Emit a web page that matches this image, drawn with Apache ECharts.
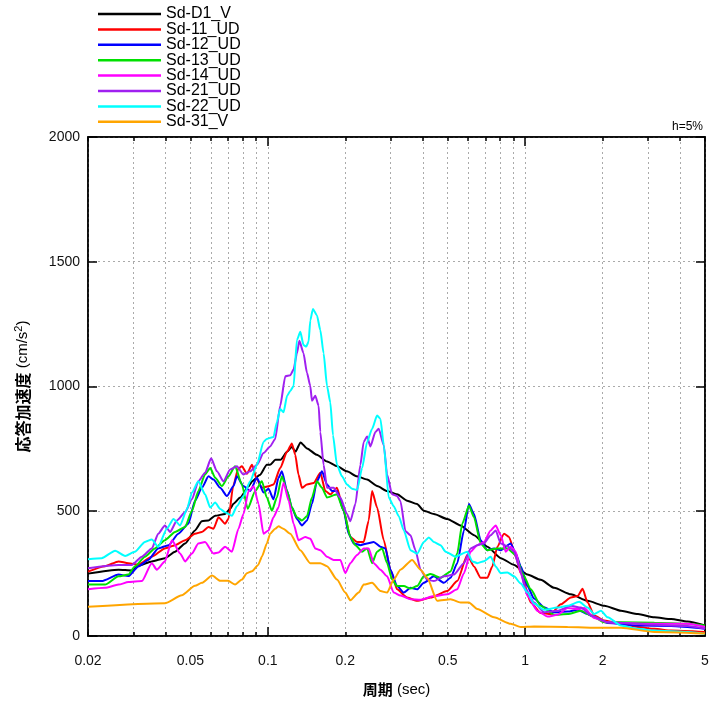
<!DOCTYPE html>
<html>
<head>
<meta charset="utf-8">
<script src="https://cdn.jsdelivr.net/npm/echarts@6/dist/echarts.min.js"></script>
<style>
html,body{margin:0;padding:0;background:#fff;}
#c{width:712px;height:702px;}
</style>
</head>
<body>
<div id="c"></div>
<script>
// ---- data: period (sec) and response acceleration (cm/s^2) ----
const seriesNames = ['Sd-D1_V','Sd-11_UD','Sd-12_UD','Sd-13_UD','Sd-14_UD','Sd-21_UD','Sd-22_UD','Sd-31_V'];
const seriesColors = ['#000000','#ff0000','#0000ff','#00e000','#ff00ff','#a020f0','#00ffff','#ffa500'];

const tD1 = [0.02,0.0263,0.0296,0.0314,0.0354,0.0398,0.0436,0.0477,0.0521,0.0554,0.0588,0.0624,0.0682,0.0714,0.0735,0.0781,0.0842,0.0868,0.093,0.0991,0.102,0.107,0.112,0.119,0.124,0.128,0.134,0.142,0.155,0.170,0.186,0.203,0.222,0.243,0.266,0.291,0.318,0.348,0.380,0.404,0.442,0.498,0.561,0.633,0.713,0.804,0.906,1.021,1.15,1.296,1.506,1.749,2.031,2.358,2.745,3.179,3.693,4.279,5];
const vD1 = [250,266,263,282,299,312,338,371,423,460,463,482,489,510,530,555,600,620,645,686,686,706,706,739,758,739,776,752,726,699,680,660,640,627,601,581,568,542,529,502,489,469,443,404,358,312,285,246,225,193,167,141,121,101,88,75,68,58,42];

const t11 = [0.02,0.0233,0.0263,0.0287,0.0314,0.0354,0.0398,0.0436,0.0477,0.0521,0.0554,0.0588,0.0615,0.0643,0.0682,0.0703,0.0733,0.0767,0.0793,0.0829,0.0868,0.0907,0.0948,0.1006,0.1052,0.1117,0.1188,0.124,0.1278,0.1315,0.1357,0.1419,0.1506,0.16,0.1673,0.175,0.1856,0.1971,0.2092,0.2222,0.2358,0.2466,0.2541,0.2658,0.2822,0.2995,0.3179,0.3478,0.3804,0.4288,0.4979,0.5446,0.5958,0.6326,0.6715,0.7127,0.7456,0.7797,0.8279,0.8656,0.9193,0.9614,1.052,1.15,1.258,1.376,1.506,1.599,1.672,1.749,1.857,2.031,2.358,2.745,3.179,3.693,5];
const v11 = [258,280,299,292,286,318,351,364,384,410,417,437,430,476,450,470,600,670,680,650,686,627,594,600,607,673,739,772,726,647,594,607,613,654,581,568,594,502,397,377,377,463,581,515,384,266,187,154,141,154,180,220,325,279,233,233,279,358,410,397,318,252,134,92,88,127,154,160,189,134,82,62,49,36,29,22,16];

const t12 = [0.02,0.0226,0.0263,0.0287,0.0314,0.0343,0.0375,0.0411,0.0449,0.0491,0.0521,0.0554,0.0588,0.0615,0.0653,0.0693,0.0735,0.0758,0.0804,0.0854,0.0907,0.0962,0.1006,0.1052,0.11,0.1134,0.1188,0.124,0.1297,0.1357,0.1419,0.1484,0.1552,0.1623,0.1698,0.1775,0.1856,0.1971,0.2061,0.2156,0.2289,0.2431,0.2579,0.2739,0.2864,0.2995,0.3179,0.3376,0.3583,0.3804,0.4039,0.4418,0.4832,0.5131,0.5446,0.5783,0.6046,0.6326,0.6715,0.7127,0.7568,0.8035,0.8788,0.9193,0.9614,1.021,1.083,1.185,1.296,1.462,1.599,1.749,1.857,2.093,2.745,3.693,5];
const v12 = [220,220,246,240,279,305,351,364,410,450,542,594,640,627,594,561,600,640,601,581,634,575,590,548,634,660,581,515,469,443,463,529,620,660,607,581,581,502,410,371,364,371,377,358,351,266,200,174,193,187,213,239,213,233,292,423,529,489,384,344,351,344,371,331,280,200,150,115,95,98,105,88,75,52,42,40,29];

const t13 = [0.02,0.0233,0.0263,0.0287,0.0304,0.0333,0.0364,0.0398,0.0436,0.0477,0.0507,0.0537,0.057,0.0597,0.0624,0.0663,0.0703,0.0746,0.0793,0.0835,0.0893,0.0948,0.0991,0.1037,0.1084,0.1134,0.1188,0.124,0.1297,0.1357,0.1419,0.1484,0.1552,0.1623,0.1698,0.1856,0.1971,0.2092,0.2189,0.2324,0.2431,0.2541,0.2658,0.278,0.2907,0.304,0.3179,0.3376,0.3583,0.3804,0.4039,0.4288,0.469,0.5131,0.5446,0.5696,0.6046,0.6326,0.6715,0.7127,0.7797,0.853,0.9193,0.976,1.052,1.15,1.296,1.462,1.647,1.802,2.031,2.358,3.179,4.279,5];
const v13 = [206,206,239,246,279,318,351,384,417,437,502,581,647,673,634,601,640,680,607,510,581,620,555,502,555,640,581,515,476,463,480,555,620,594,555,568,502,397,364,338,351,292,338,351,292,226,200,200,190,200,239,248,233,259,331,450,522,476,371,344,351,351,325,252,187,121,85,88,101,82,55,55,53,49,42];

const t14 = [0.02,0.0233,0.0263,0.0287,0.0324,0.0354,0.037,0.0398,0.0424,0.0456,0.0477,0.0507,0.0537,0.057,0.0615,0.0643,0.0682,0.0725,0.0769,0.0804,0.0842,0.0881,0.092,0.0962,0.1006,0.1052,0.11,0.1151,0.1205,0.1259,0.1315,0.1398,0.1462,0.1529,0.1599,0.1698,0.1801,0.1913,0.2,0.2092,0.2222,0.2358,0.2466,0.2579,0.2739,0.2907,0.3085,0.3276,0.3583,0.392,0.4418,0.4979,0.5446,0.5783,0.6139,0.6517,0.692,0.7345,0.7682,0.8035,0.8404,0.8788,0.9193,0.9614,1.021,1.117,1.222,1.335,1.462,1.599,1.697,1.857,2.093,2.358,3.179,4.279,5];
const v14 = [187,193,206,216,220,292,266,299,384,331,299,331,371,377,331,335,358,338,430,489,581,600,529,410,423,476,515,614,542,450,384,397,390,351,344,318,305,305,252,292,325,351,351,292,266,239,174,162,147,145,160,167,187,252,338,364,377,423,443,404,338,358,338,252,160,100,78,85,112,108,112,72,55,52,49,49,36];

const t21 = [0.02,0.0263,0.0296,0.0324,0.0354,0.0375,0.0398,0.0417,0.0443,0.0477,0.0507,0.0537,0.057,0.0602,0.0634,0.0672,0.0714,0.0758,0.0804,0.0854,0.0907,0.0962,0.1021,0.1068,0.1117,0.1169,0.1222,0.1259,0.1297,0.1326,0.1376,0.1419,0.1462,0.1484,0.1529,0.1575,0.1599,0.1647,0.1698,0.1801,0.1913,0.203,0.2092,0.2189,0.2289,0.2358,0.2431,0.2503,0.2618,0.2696,0.2822,0.2907,0.304,0.3179,0.3276,0.3427,0.3583,0.3748,0.392,0.4161,0.4418,0.4832,0.5287,0.5783,0.6139,0.6517,0.692,0.7345,0.7682,0.8035,0.853,0.9057,0.947,1.0055,1.083,1.185,1.335,1.506,1.647,1.802,2.093,3.179,4.279,5];
const v21 = [272,285,285,318,351,410,443,417,463,496,548,620,654,712,660,620,667,680,647,660,686,733,760,790,923,1041,1045,1068,1133,1183,1133,1055,1002,943,963,923,818,686,594,594,555,489,460,529,686,778,800,760,818,831,765,647,568,561,540,420,404,344,266,226,220,239,246,292,351,364,371,404,423,371,360,338,279,187,134,95,101,121,114,82,55,45,40,29];

const t22 = [0.02,0.0226,0.0255,0.0279,0.0304,0.0333,0.0354,0.0375,0.0405,0.043,0.0456,0.0485,0.0507,0.0537,0.057,0.0597,0.0624,0.0653,0.0682,0.0725,0.0758,0.0804,0.0854,0.0907,0.0962,0.0991,0.1052,0.1084,0.1117,0.1151,0.1188,0.1222,0.1259,0.1297,0.1337,0.1376,0.141,0.144,0.1462,0.1497,0.1552,0.1599,0.1647,0.1698,0.1749,0.1791,0.1856,0.1942,0.203,0.2124,0.2222,0.2324,0.2431,0.2541,0.2658,0.2739,0.2822,0.295,0.3085,0.3227,0.3376,0.3583,0.3804,0.4039,0.4223,0.4418,0.469,0.4906,0.5366,0.5958,0.6231,0.6517,0.692,0.7345,0.7682,0.8035,0.853,0.9057,0.9614,1.021,1.083,1.185,1.335,1.462,1.622,1.749,1.857,1.971,2.093,2.358,2.745,3.179,4.279,5];
const v22 = [308,312,342,321,338,377,387,358,430,469,443,509,575,620,568,515,535,509,496,482,520,561,620,686,778,790,798,857,910,897,963,982,1002,1186,1219,1166,1160,1180,1265,1311,1285,1226,1133,1002,936,805,686,640,607,590,585,673,778,830,884,870,765,555,520,480,423,344,330,377,395,377,364,338,318,338,299,292,300,318,279,252,255,239,210,174,130,105,114,121,137,114,88,101,75,42,29,22,16,9];

const t31 = [0.02,0.0398,0.0463,0.0521,0.0554,0.0607,0.0653,0.0701,0.0746,0.0793,0.0829,0.0868,0.0917,0.095,0.0991,0.1021,0.1068,0.11,0.1148,0.1222,0.1337,0.1462,0.1599,0.1698,0.1856,0.2,0.2092,0.2255,0.2358,0.2541,0.2739,0.2907,0.3085,0.3276,0.3636,0.392,0.4161,0.4551,0.5131,0.5612,0.6046,0.6517,0.7568,0.8788,0.9614,1.083,1.462,1.971,2.358,3.179,5];
const v31 = [117,131,163,201,213,242,221,221,206,226,252,260,285,320,371,410,430,440,430,410,344,292,292,280,226,174,143,174,206,213,180,174,226,266,305,266,233,141,147,134,134,108,75,49,36,38,36,33,33,16,10];

// ---- axis ticks / labels ----
const xLabelPeriods = [0.02,0.05,0.1,0.2,0.5,1,2,5];
const xMinorPeriods = [0.02,0.03,0.04,0.05,0.06,0.07,0.08,0.09,0.1,0.2,0.3,0.4,0.5,0.6,0.7,0.8,0.9,1,2,3,4,5];
const xMajorPeriods = [0.1,1];
const yMin = 0, yMax = 2000, yStep = 500;
const periodMin = 0.02, periodMax = 5;

const periodSets = [tD1,t11,t12,t13,t14,t21,t22,t31];
const valueSets = [vD1,v11,v12,v13,v14,v21,v22,v31];
const lg = Math.log10;

const series = seriesNames.map((name, i) => ({
  name: name,
  type: 'line',
  xAxisIndex: 0,
  yAxisIndex: 0,
  showSymbol: false,
  symbol: 'none',
  animation: false,
  clip: true,
  smooth: 0.2,
  smoothMonotone: 'x',
  lineStyle: { color: seriesColors[i], width: 2 },
  itemStyle: { color: seriesColors[i] },
  data: periodSets[i].map((t, k) => [lg(t), valueSets[i][k]])
}));

const font = 'Liberation Sans, Arial, sans-serif';
const baseX = {
  type: 'value', gridIndex: 0, min: lg(periodMin), max: lg(periodMax)
};
const blackLine = { color: '#000', width: 1.5 };

const chart = echarts.init(document.getElementById('c'), null, { renderer: 'canvas' });
chart.setOption({
  animation: false,
  backgroundColor: '#ffffff',
  grid: { left: 88, right: 7, top: 137, bottom: 58, show: true, borderColor: '#000', borderWidth: 1.5, backgroundColor: 'transparent' },
  legend: {
    data: seriesNames,
    orient: 'vertical',
    left: 98, top: 6, padding: 0,
    itemWidth: 63, itemHeight: 2.5, itemGap: -0.6,
    icon: 'rect',
    selectedMode: false,
    textStyle: { fontFamily: font, fontSize: 16, color: '#000', lineHeight: 15 }
  },
  graphic: [{
    type: 'text', right: 9, top: 121,
    style: { text: 'h=5%', fontFamily: font, fontSize: 12, fill: '#000' }
  }],
  xAxis: [
    Object.assign({}, baseX, {
      position: 'bottom',
      name: '{b|周期} (sec)',
      nameLocation: 'middle', nameGap: 46,
      nameTextStyle: { fontFamily: font, fontSize: 15, color: '#000', rich: { b: { fontFamily: 'Noto Sans CJK JP', fontWeight: 'bold', fontSize: 15, color: '#000' } } },
      axisLine: { show: true, onZero: false, lineStyle: blackLine },
      axisTick: { show: true, inside: true, length: 4, customValues: xMinorPeriods.map(lg), lineStyle: blackLine },
      axisLabel: { show: true, customValues: xLabelPeriods.map(lg), margin: 18, fontFamily: font, fontSize: 14, color: '#111',
        formatter: v => String(+Math.pow(10, v).toPrecision(2)) },
      splitLine: { show: true, lineStyle: { color: '#aaaaaa', type: [2, 3], width: 1 } }
    }),
    Object.assign({}, baseX, {
      position: 'bottom',
      axisLine: { show: false, onZero: false },
      axisTick: { show: true, inside: true, length: 9, customValues: xMajorPeriods.map(lg), lineStyle: blackLine },
      axisLabel: { show: false },
      splitLine: { show: false }
    }),
    Object.assign({}, baseX, {
      position: 'top',
      axisLine: { show: true, onZero: false, lineStyle: blackLine },
      axisTick: { show: true, inside: true, length: 4, customValues: xMinorPeriods.map(lg), lineStyle: blackLine },
      axisLabel: { show: false },
      splitLine: { show: false }
    }),
    Object.assign({}, baseX, {
      position: 'top',
      axisLine: { show: false, onZero: false },
      axisTick: { show: true, inside: true, length: 9, customValues: xMajorPeriods.map(lg), lineStyle: blackLine },
      axisLabel: { show: false },
      splitLine: { show: false }
    })
  ],
  yAxis: [
    {
      type: 'value', min: yMin, max: yMax, interval: yStep, position: 'left',
      name: '{b|応答加速度} (cm/s{s|2})',
      nameLocation: 'middle', nameGap: 55, nameRotate: 90,
      nameTextStyle: { fontFamily: font, fontSize: 15, color: '#000', rich: {
        b: { fontFamily: 'Noto Sans CJK JP', fontWeight: 'bold', fontSize: 16, color: '#000' },
        s: { fontSize: 11, verticalAlign: 'top', padding: [0, 0, 9, 0], color: '#000' } } },
      axisLine: { show: true, onZero: false, lineStyle: blackLine },
      axisTick: { show: true, inside: true, length: 9, lineStyle: blackLine },
      axisLabel: { fontFamily: font, fontSize: 14, color: '#111', margin: 8, formatter: v => String(v) },
      splitLine: { show: true, lineStyle: { color: '#aaaaaa', type: [2, 3], width: 1 } }
    },
    {
      type: 'value', min: yMin, max: yMax, interval: yStep, position: 'right',
      axisLine: { show: true, onZero: false, lineStyle: blackLine },
      axisTick: { show: true, inside: true, length: 9, lineStyle: blackLine },
      axisLabel: { show: false },
      splitLine: { show: false }
    }
  ],
  series: series
});
</script>
</body>
</html>
